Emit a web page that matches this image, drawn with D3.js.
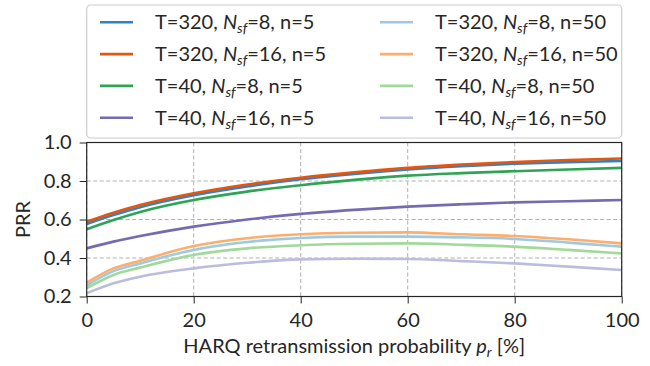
<!DOCTYPE html>
<html>
<head>
<meta charset="utf-8">
<script src="https://cdn.jsdelivr.net/npm/d3@7"></script>
<style>
  body { margin: 0; background: #fff; }
  svg { font-family: Lato, "Noto Sans", sans-serif; }
</style>
</head>
<body>
<div id="chart"></div>
<script>
// HARQ retransmission probability [%]
var pr = [0, 5, 10, 20, 30, 40, 50, 60, 70, 80, 90, 100];

// PRR per configuration
var t320n8n5   = [0.577, 0.623, 0.664, 0.726, 0.772, 0.809, 0.837, 0.860, 0.877, 0.890, 0.898, 0.904];
var t320n16n5  = [0.588, 0.635, 0.675, 0.736, 0.782, 0.817, 0.845, 0.868, 0.885, 0.899, 0.909, 0.917];
var t40n8n5    = [0.549, 0.597, 0.639, 0.701, 0.745, 0.778, 0.806, 0.828, 0.841, 0.851, 0.860, 0.868];
var t40n16n5   = [0.450, 0.485, 0.514, 0.563, 0.600, 0.629, 0.650, 0.667, 0.679, 0.689, 0.695, 0.701];
var t320n8n50  = [0.258, 0.332, 0.372, 0.442, 0.483, 0.504, 0.511, 0.511, 0.507, 0.499, 0.480, 0.459];
var t320n16n50 = [0.272, 0.346, 0.386, 0.462, 0.503, 0.523, 0.531, 0.533, 0.523, 0.514, 0.497, 0.476];
var t40n8n50   = [0.243, 0.312, 0.350, 0.416, 0.450, 0.466, 0.474, 0.476, 0.469, 0.459, 0.442, 0.424];
var t40n16n50  = [0.217, 0.269, 0.303, 0.346, 0.375, 0.393, 0.396, 0.395, 0.384, 0.372, 0.355, 0.338];

// legend labels: [T, Nsf, n]
var labels = [
    ["320", "8", "5"], ["320", "16", "5"], ["40", "8", "5"], ["40", "16", "5"],
    ["320", "8", "50"], ["320", "16", "50"], ["40", "8", "50"], ["40", "16", "50"]
];
var seriesValues = [t320n8n5, t320n16n5, t40n8n5, t40n16n5, t320n8n50, t320n16n50, t40n8n50, t40n16n50];
var colors = ["#3182bd", "#e6550d", "#31a354", "#756bb1", "#9ecae1", "#fdae6b", "#a1d99b", "#bcbddc"];

var xTicks = [0, 20, 40, 60, 80, 100];
var yTicks = [0.2, 0.4, 0.6, 0.8, 1.0];

// set the dimensions and margins of the graph
var W = 650, H = 366;
var margin = { top: 142.5, right: 28.3, bottom: 69.5, left: 86.7 },
    width = W - margin.left - margin.right,
    height = H - margin.top - margin.bottom;
var fontSize = "20px", subSize = "14px";

var svg = d3.select("#chart")
    .append("svg")
    .attr("width", W)
    .attr("height", H);

var g = svg.append("g")
    .attr("transform", "translate(" + margin.left + "," + margin.top + ")");

var x = d3.scaleLinear().domain([0, 100]).range([0, width]);
var y = d3.scaleLinear().domain([0.2, 1.0]).range([height, 0]);

// grid
g.append("g").selectAll("line")
    .data(xTicks)
    .enter().append("line")
    .attr("x1", function(d) { return x(d); })
    .attr("x2", function(d) { return x(d); })
    .attr("y1", 0).attr("y2", height)
    .attr("stroke", "#b0b0b0")
    .attr("stroke-width", 1)
    .attr("stroke-dasharray", "4,2.5");
g.append("g").selectAll("line")
    .data(yTicks)
    .enter().append("line")
    .attr("x1", 0).attr("x2", width)
    .attr("y1", function(d) { return y(d); })
    .attr("y2", function(d) { return y(d); })
    .attr("stroke", "#b0b0b0")
    .attr("stroke-width", 1)
    .attr("stroke-dasharray", "4,2.5");

// lines
var line = d3.line()
    .x(function(d) { return x(d[0]); })
    .y(function(d) { return y(d[1]); })
    .curve(d3.curveMonotoneX);

g.append("g").selectAll("path")
    .data(seriesValues)
    .enter().append("path")
    .attr("d", function(vals) { return line(pr.map(function(p, i) { return [p, vals[i]]; })); })
    .attr("fill", "none")
    .attr("stroke", function(d, i) { return colors[i]; })
    .attr("stroke-width", 2.6);

// axes
var xAxis = g.append("g")
    .attr("transform", "translate(0," + height + ")")
    .call(d3.axisBottom(x).tickValues(xTicks).tickSize(7).tickPadding(9));
var yAxis = g.append("g")
    .call(d3.axisLeft(y).tickValues(yTicks).tickFormat(d3.format(".1f")).tickSize(7).tickPadding(8));

[xAxis, yAxis].forEach(function(ax) {
    ax.select(".domain").remove();
    ax.selectAll("line").attr("stroke", "#262626").attr("stroke-width", 1);
    ax.selectAll("text").attr("fill", "#262626").style("font-size", fontSize).style("font-family", "Lato, sans-serif");
});

// frame
g.append("rect")
    .attr("width", width).attr("height", height)
    .attr("fill", "none")
    .attr("stroke", "#262626")
    .attr("stroke-width", 1.2);

// axis labels
var xl = svg.append("text")
    .attr("x", margin.left + width / 2)
    .attr("y", 353)
    .attr("text-anchor", "middle")
    .attr("fill", "#262626")
    .style("font-size", fontSize);
xl.append("tspan").text("HARQ retransmission probability ");
xl.append("tspan").attr("font-style", "italic").text("p");
xl.append("tspan").attr("font-style", "italic").attr("font-size", subSize).attr("dy", 4).text("r");
xl.append("tspan").attr("dy", -4).text(" [%]");

svg.append("text")
    .attr("transform", "translate(30," + (margin.top + height / 2) + ") rotate(-90)")
    .attr("text-anchor", "middle")
    .attr("fill", "#262626")
    .style("font-size", fontSize)
    .text("PRR");

// legend
var legend = svg.append("g");
legend.append("rect")
    .attr("x", 86.7).attr("y", 5)
    .attr("width", 535).attr("height", 133)
    .attr("rx", 4)
    .attr("fill", "#fff")
    .attr("fill-opacity", 0.8)
    .attr("stroke", "#cccccc")
    .attr("stroke-width", 1.2);

var items = legend.selectAll("g.item")
    .data(labels)
    .enter().append("g")
    .attr("class", "item")
    .attr("transform", function(d, i) {
        var col = Math.floor(i / 4), row = i % 4;
        return "translate(" + (col === 0 ? 100 : 380) + "," + (22.3 + row * 31.8) + ")";
    });
items.append("line")
    .attr("x1", 0).attr("x2", 33)
    .attr("stroke", function(d, i) { return colors[i]; })
    .attr("stroke-width", 2.6);
var lt = items.append("text")
    .attr("x", 55)
    .attr("y", 7)
    .attr("fill", "#262626")
    .style("font-size", fontSize);
lt.append("tspan").text(function(d) { return "T=" + d[0] + ", "; });
lt.append("tspan").attr("font-style", "italic").text("N");
lt.append("tspan").attr("font-style", "italic").attr("font-size", subSize).attr("dy", 4).text("sf");
lt.append("tspan").attr("dy", -4).text(function(d) { return "=" + d[1] + ", n=" + d[2]; });
</script>
</body>
</html>
